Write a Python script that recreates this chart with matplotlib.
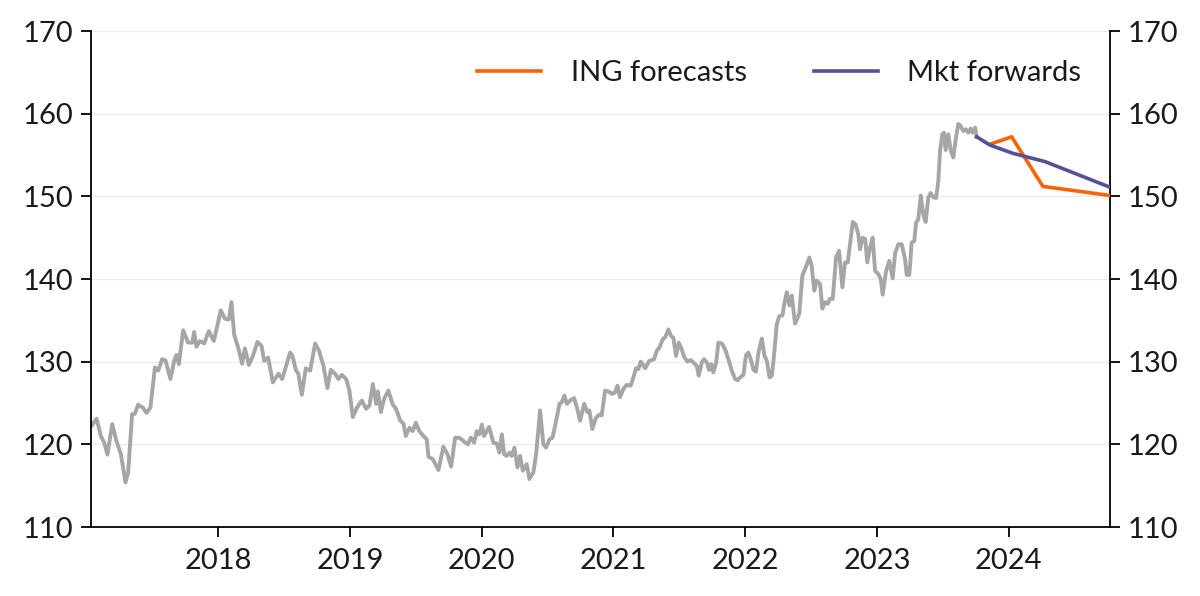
import matplotlib
matplotlib.use("Agg")
import matplotlib.pyplot as plt

plt.rcParams['font.family'] = ['Lato', 'DejaVu Sans']

# EUR/JPY spot history (fractional year, level)
spot_dates = [
    2017.039, 2017.077, 2017.110, 2017.135, 2017.160, 2017.196, 2017.228, 2017.262, 2017.297, 2017.317,
    2017.347, 2017.368, 2017.393, 2017.431, 2017.456, 2017.486, 2017.520, 2017.545, 2017.575, 2017.600,
    2017.638, 2017.666, 2017.684, 2017.702, 2017.734, 2017.772, 2017.803, 2017.818, 2017.835, 2017.861,
    2017.894, 2017.929, 2017.967, 2018.020, 2018.051, 2018.081, 2018.101, 2018.121, 2018.152, 2018.182,
    2018.203, 2018.233, 2018.266, 2018.298, 2018.329, 2018.349, 2018.379, 2018.415, 2018.440, 2018.458,
    2018.486, 2018.516, 2018.546, 2018.564, 2018.590, 2018.609, 2018.635, 2018.665, 2018.698, 2018.736,
    2018.766, 2018.799, 2018.829, 2018.855, 2018.888, 2018.913, 2018.938, 2018.971, 2018.996, 2019.022,
    2019.052, 2019.090, 2019.123, 2019.148, 2019.174, 2019.199, 2019.212, 2019.235, 2019.259, 2019.292,
    2019.325, 2019.350, 2019.381, 2019.406, 2019.424, 2019.451, 2019.477, 2019.500, 2019.527, 2019.558,
    2019.583, 2019.596, 2019.629, 2019.672, 2019.709, 2019.740, 2019.768, 2019.798, 2019.831, 2019.861,
    2019.895, 2019.917, 2019.942, 2019.963, 2019.983, 2020.001, 2020.018, 2020.056, 2020.089, 2020.115,
    2020.134, 2020.153, 2020.170, 2020.190, 2020.210, 2020.228, 2020.248, 2020.271, 2020.291, 2020.312,
    2020.342, 2020.362, 2020.392, 2020.413, 2020.443, 2020.468, 2020.489, 2020.514, 2020.537, 2020.565,
    2020.590, 2020.608, 2020.628, 2020.646, 2020.671, 2020.701, 2020.722, 2020.747, 2020.777, 2020.802,
    2020.817, 2020.840, 2020.866, 2020.893, 2020.911, 2020.936, 2020.961, 2020.990, 2021.012, 2021.030,
    2021.050, 2021.075, 2021.101, 2021.131, 2021.151, 2021.171, 2021.189, 2021.207, 2021.240, 2021.272,
    2021.308, 2021.328, 2021.348, 2021.374, 2021.394, 2021.417, 2021.437, 2021.454, 2021.475, 2021.495,
    2021.513, 2021.536, 2021.561, 2021.587, 2021.612, 2021.632, 2021.647, 2021.670, 2021.688, 2021.708,
    2021.725, 2021.741, 2021.758, 2021.779, 2021.796, 2021.822, 2021.847, 2021.872, 2021.898, 2021.923,
    2021.943, 2021.961, 2021.986, 2022.006, 2022.024, 2022.043, 2022.063, 2022.081, 2022.101, 2022.126,
    2022.146, 2022.164, 2022.184, 2022.202, 2022.219, 2022.239, 2022.258, 2022.283, 2022.294, 2022.315,
    2022.335, 2022.353, 2022.378, 2022.410, 2022.433, 2022.459, 2022.486, 2022.504, 2022.524, 2022.542,
    2022.568, 2022.585, 2022.605, 2022.626, 2022.643, 2022.664, 2022.689, 2022.712, 2022.737, 2022.757,
    2022.778, 2022.795, 2022.816, 2022.838, 2022.858, 2022.871, 2022.891, 2022.911, 2022.926, 2022.947,
    2022.967, 2022.985, 2023.010, 2023.028, 2023.043, 2023.068, 2023.093, 2023.119, 2023.137, 2023.162,
    2023.187, 2023.212, 2023.225, 2023.245, 2023.263, 2023.283, 2023.296, 2023.313, 2023.332, 2023.351,
    2023.369, 2023.389, 2023.407, 2023.427, 2023.448, 2023.465, 2023.478, 2023.495, 2023.508, 2023.521,
    2023.541, 2023.559, 2023.579, 2023.597, 2023.617, 2023.635, 2023.655, 2023.675, 2023.693, 2023.711,
    2023.726, 2023.744, 2023.756,
]
spot_values = [
    122.25, 123.1, 121.0, 120.2, 118.75, 122.45, 120.4, 118.8, 115.4, 116.6,
    123.65, 123.7, 124.8, 124.4, 123.8, 124.45, 129.3, 128.9, 130.3, 130.15,
    127.9, 130.1, 130.8, 129.7, 133.8, 132.3, 132.3, 133.6, 131.8, 132.5,
    132.2, 133.7, 132.5, 136.2, 135.2, 135.1, 137.2, 133.3, 131.7, 129.75,
    131.6, 129.6, 130.8, 132.4, 131.9, 130.1, 130.5, 127.5, 128.1, 128.55,
    127.9, 129.5, 131.1, 130.7, 129.0, 128.5, 126.0, 129.2, 128.9, 132.2,
    131.3, 129.5, 126.8, 129.0, 128.5, 127.9, 128.4, 127.9, 126.5, 123.3,
    124.4, 125.3, 124.3, 124.7, 127.3, 124.9, 126.4, 123.9, 125.5, 126.5,
    124.8, 124.3, 122.9, 122.5, 121.0, 122.0, 121.6, 122.6, 121.6, 121.0,
    120.6, 118.5, 118.2, 116.9, 119.7, 118.8, 117.3, 120.8, 120.8, 120.4,
    120.0, 120.8, 120.2, 121.6, 121.2, 122.4, 121.0, 122.1, 120.2, 120.1,
    119.0, 121.2, 118.8, 118.6, 119.0, 118.6, 119.6, 117.2, 118.6, 116.8,
    117.6, 115.8, 116.6, 118.8, 124.1, 120.0, 119.6, 120.6, 120.8, 122.85,
    124.9, 125.1, 125.9, 124.9, 125.3, 125.6, 124.5, 122.85, 124.9, 123.9,
    124.1, 121.85, 123.2, 123.6, 123.5, 126.5, 126.4, 126.1, 126.3, 127.1,
    125.7, 126.7, 127.2, 127.1, 128.1, 129.2, 129.1, 130.0, 129.2, 130.1,
    130.3, 131.3, 131.7, 132.7, 133.0, 133.9, 133.1, 132.9, 130.7, 132.3,
    131.7, 130.6, 130.0, 130.2, 129.8, 129.5, 128.3, 129.9, 130.3, 129.9,
    129.0, 129.7, 128.7, 129.9, 132.3, 132.2, 131.5, 130.3, 128.9, 127.9,
    127.75, 128.1, 128.4, 130.8, 131.1, 130.2, 129.0, 128.8, 131.2, 132.8,
    130.7, 130.1, 128.1, 128.3, 130.9, 134.5, 135.5, 135.6, 136.8, 138.4,
    136.8, 138.0, 134.6, 135.8, 140.4, 141.4, 142.6, 141.6, 138.6, 139.8,
    139.4, 136.4, 137.2, 137.0, 137.6, 137.6, 142.6, 143.4, 139.0, 142.0,
    142.0, 144.2, 146.9, 146.6, 145.4, 143.6, 145.0, 144.8, 142.0, 143.8,
    145.0, 141.0, 140.6, 140.0, 138.1, 140.9, 142.2, 140.1, 143.1, 144.2,
    144.2, 142.5, 140.5, 140.5, 144.4, 144.6, 146.8, 147.2, 150.1, 147.8,
    146.9, 149.8, 150.4, 149.9, 149.8, 151.8, 155.4, 157.5, 157.7, 155.6,
    157.5, 155.6, 154.7, 156.9, 158.75, 158.5, 157.9, 158.1, 157.7, 158.2,
    157.7, 158.3, 157.2,
]

# ING forecasts (1M, 3M, 6M, 12M)
ing_dates = [2023.857, 2024.022, 2024.259, 2024.768]
ing_values = [156.3, 157.2, 151.2, 150.1]

# Market forwards (spot, 1M, 3M, 6M, 12M)
fwd_dates = [2023.756, 2023.857, 2024.032, 2024.275, 2024.768]
fwd_values = [157.2, 156.2, 155.2, 154.2, 151.1]

year_ticks = [2018, 2019, 2020, 2021, 2022, 2023, 2024]
year_labels = ['2018', '2019', '2020', '2021', '2022', '2023', '2024']
y_ticks = [110, 120, 130, 140, 150, 160, 170]

GREY = '#A6A6A6'
ORANGE = '#FF6200'
PURPLE = '#525199'
TXT = '#1a1a1a'
FS = 21

fig = plt.figure(figsize=(12, 5.96), dpi=100)
ax = fig.add_axes([91/1200, 1 - 527/596, (1110 - 91)/1200, (527 - 31)/596])

ax.plot(spot_dates, spot_values, color=GREY, lw=2.8, solid_joinstyle='round', zorder=2)
ax.plot(ing_dates, ing_values, color=ORANGE, lw=2.6, label='ING forecasts', zorder=3)
ax.plot(fwd_dates, fwd_values, color=PURPLE, lw=2.6, label='Mkt forwards', zorder=4)

ax.set_xlim(spot_dates[0] - 0.004, fwd_dates[-1])
ax.set_ylim(110, 170)
ax.set_xticks(year_ticks)
ax.set_xticklabels(year_labels)
ax.set_yticks(y_ticks)

ax.grid(axis='y', color='#EBEBEB', lw=1.0, zorder=0)
ax.set_axisbelow(True)

for s in ['left', 'right', 'bottom']:
    ax.spines[s].set_color('black')
    ax.spines[s].set_linewidth(1.3)
ax.spines['top'].set_visible(False)

ax.tick_params(axis='both', direction='out', length=7, width=1.3, colors='black',
               labelsize=FS, labelcolor=TXT)
ax.tick_params(axis='y', right=True, labelright=True, pad=6)
ax.tick_params(axis='x', pad=8)

leg = ax.legend(loc='center right', bbox_to_anchor=(0.9715, 0.915), ncol=2, frameon=False,
                fontsize=FS, handlelength=2.2, handletextpad=1.0, columnspacing=2.3,
                borderaxespad=0, borderpad=0)
for t in leg.get_texts():
    t.set_color(TXT)

fig.savefig('out.png', dpi=100)
